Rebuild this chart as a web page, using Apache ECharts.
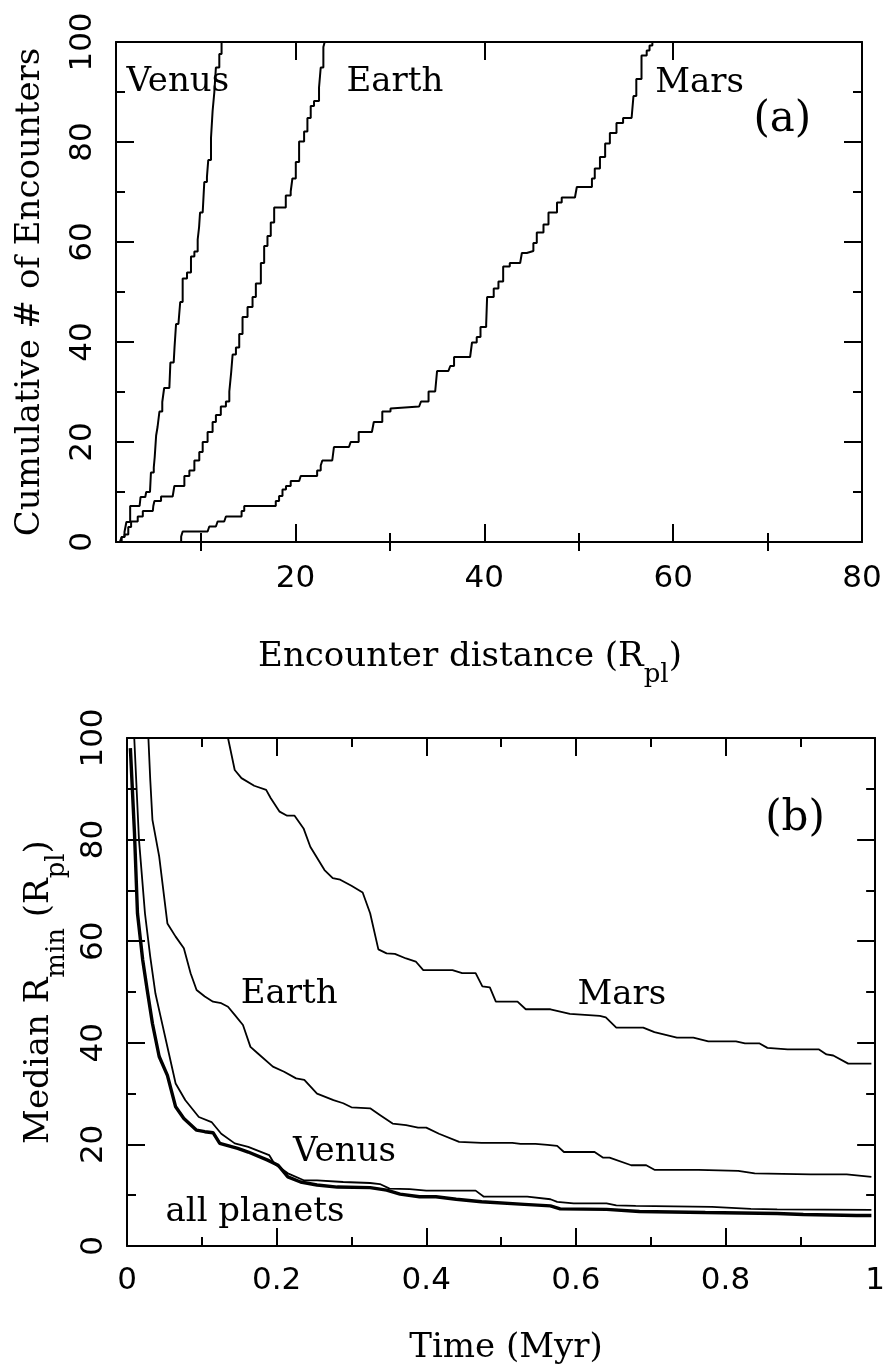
<!DOCTYPE html>
<html>
<head>
<meta charset="utf-8">
<title>Planetary encounters</title>
<script src="https://cdn.jsdelivr.net/npm/echarts@6.0.0/dist/echarts.min.js"></script>
<style>
html,body{margin:0;padding:0;background:#ffffff;}
#chart{width:888px;height:1372px;}
</style>
</head>
<body>
<div id="chart"></div>
<script>
// ---------- Panel (a): cumulative # of encounters vs encounter distance ----------
const xRangeA = [1, 80];
const yRangeA = [0, 100];
const xMajorA = [20, 40, 60, 80];
const xMinorA = [10, 30, 50, 70];

const venusA = [[1.4,0],[1.6,1],[1.9,2],[2.1,4],[2.5,7.2],[3.5,7.2],[3.6,9],[4.1,9],[4.2,10],[4.6,10],[4.7,13.9],[5.0,14.9],[5.1,17],[5.25,21.3],[5.4,23],[5.6,26.1],[5.9,28],[6.1,30.8],[6.65,31.1],[6.76,35.9],[7.11,36.2],[7.2,39],[7.36,43.6],[7.61,43.6],[7.8,48],[8.06,52.7],[8.52,53.9],[8.94,57.1],[9.3,58.1],[9.65,60.5],[9.8,63],[9.9,65.9],[10.18,65.9],[10.35,72],[10.63,73],[10.77,76.4],[11.06,80.8],[11.23,86.2],[11.41,89.9],[11.58,94.9],[11.94,97.6],[12.18,100]];

const earthA = [[1.3,0],[1.6,1],[1.9,1.5],[2.3,3],[2.6,4.1],[3.3,5.1],[3.84,6.2],[4.9,6.2],[4.95,7.2],[5.07,8.2],[5.77,9.1],[7.0,9.1],[7.18,11.2],[7.9,11.2],[8.24,13.2],[8.77,14.3],[9.3,16.3],[9.82,18],[10.18,20],[10.7,22],[11.23,24],[11.58,25.4],[12.1,27.1],[12.64,28.1],[13.0,30.1],[13.2,34],[13.35,37.5],[13.7,38.9],[14.05,41.6],[14.4,45],[14.93,47],[15.46,49],[15.81,51.7],[16.34,55.8],[16.69,59.2],[17.04,61.2],[17.39,63.9],[17.75,66.9],[18.63,66.9],[18.98,69.3],[19.5,70.1],[19.68,72.7],[20.04,76],[20.39,80.1],[20.92,82.1],[21.27,84.8],[21.62,87.2],[21.97,88.2],[22.5,90.9],[22.68,94.9],[22.96,99],[23.1,100]];

const marsA = [[7.54,0],[7.9,1.1],[8.06,2.1],[10.7,2.1],[10.88,3.1],[11.58,3.1],[11.76,4.1],[12.46,4.1],[12.64,5.1],[14.05,5.1],[14.3,6.2],[14.58,7.2],[17.57,7.2],[17.92,8.2],[18.27,9.2],[18.63,10.5],[19.0,11.2],[19.5,12.2],[20.4,12.2],[20.56,13.2],[21.97,13.2],[22.3,14.3],[22.68,15.3],[22.85,16.3],[23.9,16.3],[24.08,19],[25.67,19],[25.85,20],[26.37,20],[26.7,22],[28.1,22],[28.3,24],[28.8,24],[29.2,26.1],[30.07,26.7],[30.2,27.1],[33.1,27.1],[33.3,28.1],[34.1,30.1],[34.8,30.1],[35.0,34.2],[36.2,34.2],[36.4,35.2],[36.8,37],[38.5,37],[38.7,39.9],[39.2,41],[39.6,43],[40.2,43.5],[40.3,49],[41.0,50.7],[41.5,52.1],[42.0,55.1],[42.7,55.8],[43.8,56.1],[43.98,57.8],[44.5,58.2],[45.2,59.8],[45.56,61.9],[46.27,63.5],[46.8,65.9],[47.7,67.9],[48.2,68.9],[49.6,68.9],[49.8,71],[51.0,71],[51.4,72.7],[51.7,74.7],[52.25,77],[52.8,79.7],[53.3,81.8],[54.0,83.8],[54.7,84.8],[55.6,85.2],[55.8,89.2],[56.1,92.6],[56.65,97.3],[57.2,98.3],[57.5,99.3],[57.8,100]];

// ---------- Panel (b): median minimum distance vs time ----------
const xRangeB = [0, 1];
const yRangeB = [0, 100];

const marsB = [[0.135,100],[0.144,93.7],[0.153,92.1],[0.17,90.6],[0.186,89.8],[0.192,88.2],[0.204,85.5],[0.214,84.7],[0.224,84.7],[0.236,82.2],[0.245,78.6],[0.264,74.0],[0.275,72.4],[0.285,72.1],[0.3,70.9],[0.315,69.6],[0.325,65.5],[0.336,58.4],[0.347,57.6],[0.358,57.5],[0.373,56.6],[0.386,56.0],[0.396,54.3],[0.435,54.3],[0.448,53.7],[0.466,53.7],[0.475,51.1],[0.485,50.9],[0.493,48.1],[0.522,48.1],[0.533,46.6],[0.566,46.6],[0.592,45.7],[0.632,45.3],[0.64,45.0],[0.654,43],[0.69,43],[0.705,42.1],[0.735,41],[0.757,41],[0.777,40.3],[0.814,40.3],[0.826,39.9],[0.845,39.9],[0.856,39],[0.883,38.7],[0.925,38.7],[0.935,37.7],[0.944,37.5],[0.964,35.9],[0.995,35.9]];

const earthB = [[0.0286,100],[0.031,92],[0.034,83.9],[0.043,76.7],[0.054,63.5],[0.065,60.9],[0.076,58.6],[0.085,53.7],[0.093,50.4],[0.104,49.1],[0.115,48.1],[0.126,47.8],[0.135,47.1],[0.144,45.5],[0.155,43.5],[0.165,39.2],[0.175,37.9],[0.195,35.3],[0.21,34.3],[0.226,33],[0.237,32.7],[0.254,30],[0.276,28.7],[0.289,28.1],[0.3,27.3],[0.325,27.1],[0.338,25.8],[0.355,24.1],[0.373,23.8],[0.389,23.3],[0.4,23.3],[0.417,22.1],[0.444,20.5],[0.474,20.3],[0.515,20.3],[0.526,20.1],[0.546,20.1],[0.562,19.9],[0.575,19.7],[0.584,18.5],[0.625,18.5],[0.636,17.4],[0.645,17.4],[0.674,15.9],[0.694,15.9],[0.705,15],[0.764,15],[0.817,14.8],[0.839,14.3],[0.914,14.1],[0.962,14.1],[0.995,13.6]];

const venusB = [[0.0097,100],[0.016,80],[0.024,65.5],[0.031,57],[0.038,49.7],[0.045,45.1],[0.056,37.9],[0.065,32],[0.078,28.7],[0.096,25.4],[0.113,24.4],[0.126,22.1],[0.144,20.2],[0.162,19.5],[0.19,17.9],[0.197,16.2],[0.215,14.3],[0.237,12.9],[0.254,12.9],[0.289,12.6],[0.325,12.4],[0.338,12.2],[0.351,11.3],[0.378,11.2],[0.4,10.9],[0.466,10.9],[0.477,9.7],[0.535,9.7],[0.566,9.2],[0.575,8.7],[0.597,8.4],[0.641,8.4],[0.654,8.0],[0.68,7.9],[0.782,7.7],[0.834,7.3],[0.869,7.2],[0.995,7.1]];

const allB = [[0.0045,98],[0.01,81.3],[0.014,65.5],[0.021,56.3],[0.027,50.4],[0.034,43.8],[0.043,37.3],[0.054,33.6],[0.065,27.4],[0.076,25.1],[0.093,22.8],[0.104,22.5],[0.115,22.3],[0.124,20.2],[0.148,19.2],[0.162,18.5],[0.188,16.9],[0.202,15.9],[0.215,13.6],[0.232,12.6],[0.254,12.0],[0.281,11.6],[0.325,11.5],[0.347,11.0],[0.365,10.2],[0.391,9.7],[0.413,9.7],[0.44,9.2],[0.474,8.7],[0.531,8.2],[0.566,7.9],[0.579,7.3],[0.641,7.2],[0.685,6.8],[0.773,6.6],[0.869,6.4],[0.904,6.2],[0.975,6.0],[0.995,6.0]];

// text annotations, anchored in data coordinates (left edge, baseline)
const notesA = [
  {text: 'Venus', at: [2.1, 89.9]},
  {text: 'Earth', at: [25.4, 89.9]},
  {text: 'Mars',  at: [58.1, 89.7]}
];
const tagA = {text: '(a)', at: [68.5, 84.3]};
const notesB = [
  {text: 'Mars',        at: [0.602, 47.4]},
  {text: 'Earth',       at: [0.152, 47.6]},
  {text: 'Venus',       at: [0.222, 16.5]},
  {text: 'all planets', at: [0.0515, 4.7]}
];
const tagB = {text: '(b)', at: [0.853, 84.1]};

// ---------- styling ----------
const BLACK = '#000000';
const SANS = 'DejaVu Sans';
const SERIF = 'DejaVu Serif';
const axisLine = {show: true, onZero: false, lineStyle: {color: BLACK, width: 2}};
function ticks(len, custom) {
  const t = {show: true, inside: true, length: len, lineStyle: {color: BLACK, width: 2}};
  if (custom) t.customValues = custom;
  return t;
}
const minor = {show: true, splitNumber: 2, length: 9, lineStyle: {color: BLACK, width: 2}};
const tickFont = {color: BLACK, fontFamily: SANS, fontSize: 31};
const subRich = {sub: {fontFamily: SERIF, fontSize: 26, lineHeight: 26, verticalAlign: 'bottom', color: BLACK}};

const chart = echarts.init(document.getElementById('chart'), null, {renderer: 'canvas'});

const option = {
  backgroundColor: '#ffffff',
  animation: false,
  grid: [
    {left: 116, top: 42, width: 746, height: 500},
    {left: 121, top: 738, width: 757, height: 508}
  ],
  xAxis: [
    {gridIndex: 0, type: 'value', position: 'bottom', min: xRangeA[0], max: xRangeA[1],
     axisLine: axisLine, axisTick: ticks(18, xMajorA), splitLine: {show: false},
     axisLabel: Object.assign({show: true, customValues: xMajorA, margin: 21}, tickFont),
     name: 'Encounter distance (R{sub|pl})', nameLocation: 'middle', nameGap: 84,
     nameTextStyle: {color: BLACK, fontFamily: SERIF, fontSize: 34, lineHeight: 62, padding: [0, 38, 0, 0], rich: subRich}},
    {gridIndex: 0, type: 'value', position: 'bottom', min: xRangeA[0], max: xRangeA[1],
     axisLine: {show: false}, axisTick: ticks(9, xMinorA), splitLine: {show: false},
     axisLabel: {show: false, customValues: xMinorA}},
    {gridIndex: 0, type: 'value', position: 'top', min: xRangeA[0], max: xRangeA[1],
     axisLine: axisLine, axisTick: ticks(18, xMajorA), splitLine: {show: false},
     axisLabel: {show: false, customValues: xMajorA}},
    {gridIndex: 0, type: 'value', position: 'top', min: xRangeA[0], max: xRangeA[1],
     axisLine: {show: false}, axisTick: ticks(9, xMinorA), splitLine: {show: false},
     axisLabel: {show: false, customValues: xMinorA}},
    {gridIndex: 1, type: 'value', position: 'bottom', min: xRangeB[0], max: xRangeB[1], interval: 0.2,
     axisLine: axisLine, axisTick: ticks(18), minorTick: minor, splitLine: {show: false},
     axisLabel: Object.assign({show: true, margin: 19}, tickFont),
     name: 'Time (Myr)', nameLocation: 'middle', nameGap: 85,
     nameTextStyle: {color: BLACK, fontFamily: SERIF, fontSize: 34, padding: [0, 0, 0, 10]}},
    {gridIndex: 1, type: 'value', position: 'top', min: xRangeB[0], max: xRangeB[1], interval: 0.2,
     axisLine: axisLine, axisTick: ticks(18), minorTick: minor, splitLine: {show: false},
     axisLabel: {show: false}}
  ],
  yAxis: [
    {gridIndex: 0, type: 'value', position: 'left', min: yRangeA[0], max: yRangeA[1], interval: 20,
     axisLine: axisLine, axisTick: ticks(18), minorTick: minor, splitLine: {show: false},
     axisLabel: Object.assign({show: true, rotate: 90, margin: 18}, tickFont),
     name: 'Cumulative # of Encounters', nameLocation: 'middle', nameRotate: 90, nameGap: 69,
     nameTextStyle: {color: BLACK, fontFamily: SERIF, fontSize: 34}},
    {gridIndex: 0, type: 'value', position: 'right', min: yRangeA[0], max: yRangeA[1], interval: 20,
     axisLine: axisLine, axisTick: ticks(18), minorTick: minor, splitLine: {show: false},
     axisLabel: {show: false}},
    {gridIndex: 1, type: 'value', position: 'left', min: yRangeB[0], max: yRangeB[1], interval: 20,
     axisLine: axisLine, axisTick: ticks(18), minorTick: minor, splitLine: {show: false},
     axisLabel: Object.assign({show: true, rotate: 90, margin: 18}, tickFont),
     name: 'Median R{sub|min} (R{sub|pl})', nameLocation: 'middle', nameRotate: 90, nameGap: 57,
     nameTextStyle: {color: BLACK, fontFamily: SERIF, fontSize: 34, lineHeight: 62, rich: subRich}},
    {gridIndex: 1, type: 'value', position: 'right', min: yRangeB[0], max: yRangeB[1], interval: 20,
     axisLine: axisLine, axisTick: ticks(18), minorTick: minor, splitLine: {show: false},
     axisLabel: {show: false}}
  ],
  series: [
    {name: 'Venus (a)', type: 'line', xAxisIndex: 0, yAxisIndex: 0, data: venusA, step: 'end',
     symbol: 'none', silent: true, lineStyle: {color: BLACK, width: 2}},
    {name: 'Earth (a)', type: 'line', xAxisIndex: 0, yAxisIndex: 0, data: earthA, step: 'end',
     symbol: 'none', silent: true, lineStyle: {color: BLACK, width: 2}},
    {name: 'Mars (a)', type: 'line', xAxisIndex: 0, yAxisIndex: 0, data: marsA, step: 'end',
     symbol: 'none', silent: true, lineStyle: {color: BLACK, width: 2}},
    {name: 'Mars (b)', type: 'line', xAxisIndex: 4, yAxisIndex: 2, data: marsB,
     symbol: 'none', silent: true, lineStyle: {color: BLACK, width: 1.8}},
    {name: 'Earth (b)', type: 'line', xAxisIndex: 4, yAxisIndex: 2, data: earthB,
     symbol: 'none', silent: true, lineStyle: {color: BLACK, width: 1.8}},
    {name: 'Venus (b)', type: 'line', xAxisIndex: 4, yAxisIndex: 2, data: venusB,
     symbol: 'none', silent: true, lineStyle: {color: BLACK, width: 1.8}},
    {name: 'all planets', type: 'line', xAxisIndex: 4, yAxisIndex: 2, data: allB,
     symbol: 'none', silent: true, lineStyle: {color: BLACK, width: 3.4}}
  ]
};
chart.setOption(option);

// place annotation texts using the axes' own coordinate conversion
function noteGraphic(note, finder, size) {
  const p = chart.convertToPixel(finder, note.at);
  return {type: 'text', x: p[0], y: p[1] + 0.2 * size, silent: true,
          style: {text: note.text, fontFamily: SERIF, fontSize: size, fill: BLACK, align: 'left', verticalAlign: 'bottom'}};
}
function tagGraphic(note, finder, size) {
  const p = chart.convertToPixel(finder, note.at);
  return {type: 'text', x: p[0], y: p[1], silent: true,
          style: {text: note.text, fontFamily: SERIF, fontSize: size, fill: BLACK, align: 'left', verticalAlign: 'middle'}};
}
const fA = {xAxisIndex: 0, yAxisIndex: 0};
const fB = {xAxisIndex: 4, yAxisIndex: 2};
const graphics = [];
notesA.forEach(n => graphics.push(noteGraphic(n, fA, 34)));
graphics.push(tagGraphic(tagA, fA, 42));
notesB.forEach(n => graphics.push(noteGraphic(n, fB, 34)));
graphics.push(tagGraphic(tagB, fB, 42));
chart.setOption({graphic: graphics});
</script>
</body>
</html>
